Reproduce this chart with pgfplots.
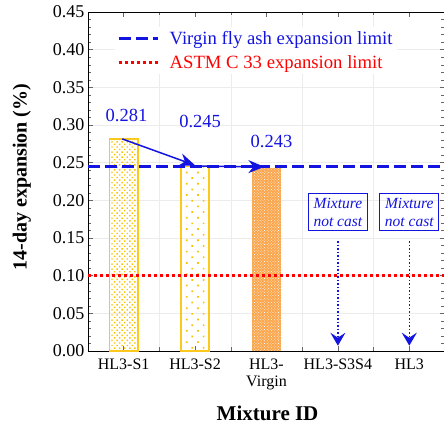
\documentclass[border=0pt]{standalone}
\usepackage{pgfplots}
\pgfplotsset{compat=1.18}
\usepackage{fontspec}
\setmainfont{Liberation Serif}
\usetikzlibrary{patterns,patterns.meta,arrows.meta}
\definecolor{myblue}{RGB}{20,20,225}
\definecolor{myred}{RGB}{255,0,0}
\definecolor{gold}{RGB}{252,200,30}
\definecolor{dotgold}{RGB}{250,195,0}
\definecolor{orng}{RGB}{250,165,75}
\begin{document}
\begin{tikzpicture}
\useasboundingbox (-88pt,-76pt) rectangle (356pt,351pt);
\begin{axis}[
  at={(0,0)}, anchor=south west,
  scale only axis, width=357pt, height=339pt,
  xmin=-0.5, xmax=4.5, ymin=0, ymax=0.45,
  clip=false,
  xtick={0,1,2,3,4},
  xticklabels={HL3-S1,HL3-S2,{HL3-\\Virgin},HL3-S3S4,HL3},
  minor xtick={0.5,1.5,2.5,3.5},
  xticklabel style={align=center, font=\fontsize{16}{17}\selectfont, anchor=north, yshift=-4pt},
  ytick={0,0.05,...,0.45},
  minor y tick num=4,
  yticklabel style={font=\fontsize{18}{19}\selectfont, /pgf/number format/.cd, fixed, fixed zerofill, precision=2, assume math mode=true},
  /pgf/number format/assume math mode=true,
  xminorgrids, ymajorgrids,
  major grid style={gray!15},
  minor grid style={gray!15},
  tick align=inside,
  major tick length=5pt, minor tick length=3.5pt,
  every tick/.style={black!60},
  axis line style={black, line width=0.8pt},
  legend style={at={(rel axis cs:0.075,0.955)}, anchor=north west, draw=none, fill=white,
    font=\fontsize{18.7}{20}\selectfont, row sep=5pt, inner sep=2pt,
    /tikz/every odd column/.append style={column sep=8pt}},
  legend cell align=left,
  legend image post style={xscale=2.3},
]
% bars: pattern fill
\addplot[ybar, bar width=0.4, bar shift=0pt, draw=none,
  pattern={Dots[distance=3.6pt, angle=45, radius=1pt]}, pattern color=dotgold, forget plot] coordinates {(0,0.281)};
\addplot[ybar, bar width=0.4, bar shift=0pt, draw=none,
  pattern={Dots[distance=8pt, angle=45, radius=1.2pt]}, pattern color=dotgold, forget plot] coordinates {(1,0.245)};
\addplot[ybar, bar width=0.4, bar shift=0pt, draw=none, fill=orng,
  postaction={pattern={Dots[distance=2pt, angle=45, radius=0.5pt]}, pattern color=white}, forget plot] coordinates {(2,0.243)};
% bars: outlines
\addplot[sharp plot, gold, line width=1.8pt, line join=miter, no marks, forget plot] coordinates {(-0.2,0) (-0.2,0.281) (0.2,0.281) (0.2,0)} -- cycle;
\addplot[sharp plot, gold, line width=1.8pt, line join=miter, no marks, forget plot] coordinates {(0.8,0) (0.8,0.245) (1.2,0.245) (1.2,0)} -- cycle;
% limit lines
\addplot[myblue, line width=3.4pt, dash pattern=on 12pt off 5pt] coordinates {(-0.5,0.245) (4.5,0.245)};
\addlegendentry{\textcolor{myblue}{Virgin fly ash expansion limit}}
\addplot[myred, line width=3pt, dash pattern=on 3pt off 3pt] coordinates {(-0.5,0.10) (4.5,0.10)};
\addlegendentry{\textcolor{myred}{ASTM C 33 expansion limit}}
% value labels
\node[text=myblue, font=\fontsize{18.5}{19}\selectfont] at (axis cs:0.04,0.312) {0.281};
\node[text=myblue, font=\fontsize{18.5}{19}\selectfont] at (axis cs:1.07,0.305) {0.245};
\node[text=myblue, font=\fontsize{18.5}{19}\selectfont] at (axis cs:2.07,0.2775) {0.243};
% arrows
\draw[myblue, line width=1.5pt, -{Stealth[length=16pt,width=13pt]}] (axis cs:-0.02,0.2815) -- (axis cs:1.0,0.2465);
\draw[myblue, line width=1.5pt, -{Stealth[length=16pt,width=13pt]}] (axis cs:1.0,0.2455) -- (axis cs:1.97,0.2445);
% not cast boxes
\node[draw=myblue, line width=1pt, text=myblue, align=center, font=\itshape\fontsize{15.5}{18}\selectfont, inner xsep=5pt, inner ysep=4pt] at (axis cs:3,0.1845) {Mixture\\not cast};
\node[draw=myblue, line width=1pt, text=myblue, align=center, font=\itshape\fontsize{15.5}{18}\selectfont, inner xsep=5pt, inner ysep=4pt] at (axis cs:4,0.1845) {Mixture\\not cast};
\draw[myblue, line width=1.5pt, dotted, -{Stealth[length=13pt,width=15pt,inset=5pt]}] (axis cs:3,0.146) -- (axis cs:3,0.007);
\draw[myblue, line width=1.5pt, dotted, -{Stealth[length=13pt,width=15pt,inset=5pt]}] (axis cs:4,0.146) -- (axis cs:4,0.007);
% axis labels
\node[rotate=90, font=\bfseries\fontsize{20}{21}\selectfont] at (rel axis cs:-0.185,0.513) {14-day expansion (\%)};
\node[font=\bfseries\fontsize{21}{22}\selectfont] at (rel axis cs:0.503,-0.183) {Mixture ID};
\end{axis}
\end{tikzpicture}
\end{document}
